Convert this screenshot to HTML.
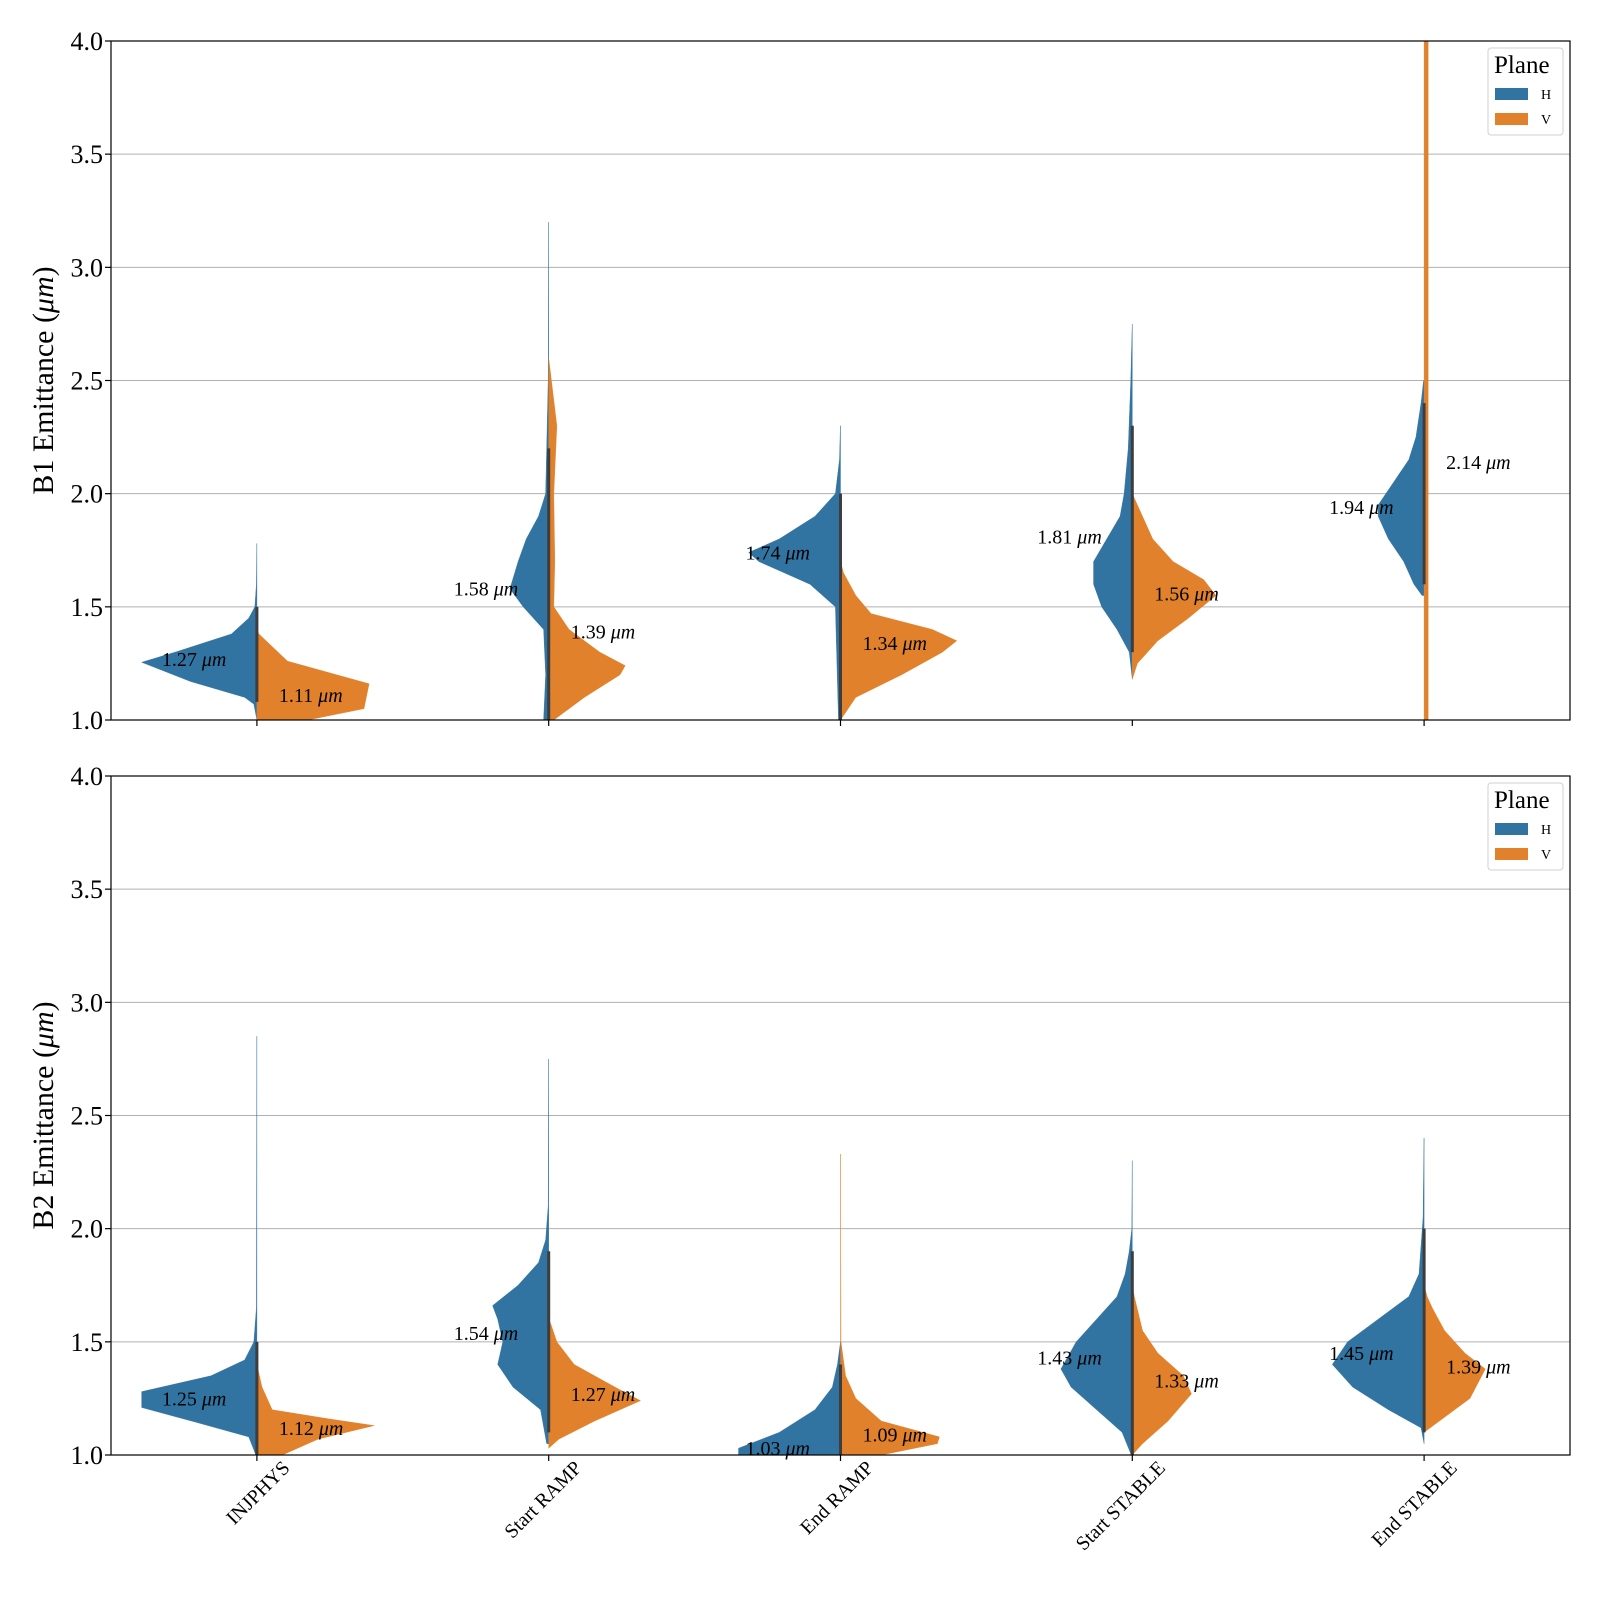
<!DOCTYPE html>
<html><head><meta charset="utf-8"><style>
body{margin:0;background:#fff}
svg{display:block;font-family:"Liberation Serif","DejaVu Serif",serif}
</style></head><body>
<svg id="chart" width="1600" height="1600" viewBox="0 0 1600 1600">
<defs>
<clipPath id="clip0"><rect x="111" y="41" width="1459" height="679"/></clipPath>
<clipPath id="clip1"><rect x="111" y="776" width="1459" height="679"/></clipPath>
</defs>
</svg>
<script>
const categories = ["INJPHYS","Start RAMP","End RAMP","Start STABLE","End STABLE"];
const yTicks = [1.0,1.5,2.0,2.5,3.0,3.5,4.0];
const panelTitles = ["B1 Emittance (","B2 Emittance ("];
// density profiles: [value, half-width]
const b1H = [
 [[1.0,0],[1.07,3],[1.1,12],[1.17,65],[1.255,113],[1.3,80],[1.38,25],[1.45,8],[1.5,2],[1.6,0.5],[1.78,0.1]],
 [[1.0,5],[1.2,3],[1.4,5],[1.5,25],[1.58,38],[1.7,30],[1.8,22],[1.9,10],[2.0,3],[2.2,2],[2.5,0.5],[3.2,0.1]],
 [[1.0,2],[1.5,5],[1.6,30],[1.7,80],[1.74,90],[1.8,60],[1.9,25],[2.0,5],[2.15,1],[2.3,0.1]],
 [[1.18,0],[1.3,3],[1.4,15],[1.5,30],[1.6,38],[1.7,38],[1.8,25],[1.9,12],[2.0,8],[2.2,4],[2.5,1.5],[2.75,0.1]],
 [[1.55,2],[1.6,10],[1.7,20],[1.8,35],[1.9,45],[1.95,45],[2.05,30],[2.15,15],[2.25,8],[2.4,3],[2.5,0.5]]
];
const b1V = [
 [[0.95,60],[1.0,50],[1.05,105],[1.16,110],[1.26,30],[1.38,2],[1.4,0]],
 [[1.0,5],[1.1,35],[1.2,70],[1.24,75],[1.3,50],[1.4,20],[1.5,5],[1.7,6],[2.0,5],[2.3,8],[2.45,4],[2.6,0]],
 [[1.0,0],[1.1,15],[1.2,60],[1.3,100],[1.35,114],[1.4,90],[1.47,30],[1.55,15],[1.65,3],[1.7,0]],
 [[1.18,0],[1.25,5],[1.35,25],[1.45,55],[1.55,82],[1.62,70],[1.7,40],[1.8,20],[1.95,5],[2.0,0]],
 [[0.9,4],[4.1,4]]
];
const b2H = [
 [[1.0,1],[1.08,8],[1.145,60],[1.21,113],[1.28,113],[1.35,45],[1.42,12],[1.5,3],[1.65,0.5],[2.85,0.1]],
 [[1.05,2],[1.2,8],[1.3,35],[1.4,50],[1.5,45],[1.6,50],[1.66,55],[1.75,30],[1.85,10],[1.95,3],[2.1,0.5],[2.75,0.1]],
 [[0.95,100],[1.03,100],[1.1,60],[1.2,25],[1.3,8],[1.4,3],[1.5,0]],
 [[1.0,1],[1.1,10],[1.2,35],[1.3,60],[1.38,70],[1.5,55],[1.6,35],[1.7,15],[1.8,7],[1.9,3],[2.0,0.5],[2.3,0.1]],
 [[1.05,0],[1.12,3],[1.2,35],[1.3,70],[1.4,90],[1.5,75],[1.6,45],[1.7,15],[1.8,5],[2.05,1],[2.4,0.1]]
];
const b2V = [
 [[0.95,40],[1.0,25],[1.07,60],[1.13,115],[1.16,70],[1.2,15],[1.3,5],[1.4,0]],
 [[1.03,0],[1.07,10],[1.15,45],[1.24,90],[1.3,65],[1.4,25],[1.5,8],[1.58,2],[1.6,0]],
 [[0.95,40],[1.0,40],[1.05,95],[1.08,97],[1.15,40],[1.25,15],[1.35,5],[1.5,0.5],[2.33,0.1]],
 [[1.0,0],[1.05,10],[1.15,35],[1.27,58],[1.35,50],[1.45,25],[1.55,10],[1.7,2],[1.75,0]],
 [[1.1,0],[1.15,15],[1.25,45],[1.38,60],[1.45,40],[1.55,20],[1.65,8],[1.7,3],[1.75,0]]
];
const b1Hmed = [1.27,1.58,1.74,1.81,1.94];
const b1Vmed = [1.11,1.39,1.34,1.56,2.14];
const b2Hmed = [1.25,1.54,1.03,1.43,1.45];
const b2Vmed = [1.12,1.27,1.09,1.33,1.39];
const b1Box = [[1.08,1.5],[1.0,2.2],[1.0,2.0],[1.3,2.3],[1.6,2.4]];
const b2Box = [[1.0,1.5],[1.1,1.9],[1.0,1.4],[1.0,1.9],[1.1,2.0]];

const NS="http://www.w3.org/2000/svg";
const svg=document.getElementById('chart');
const X0=111,X1=1570,SC=1.02;
const panels=[{top:41,bot:720,H:b1H,V:b1V,Hm:b1Hmed,Vm:b1Vmed,box:b1Box},{top:776,bot:1455,H:b2H,V:b2V,Hm:b2Hmed,Vm:b2Vmed,box:b2Box}];
function xPos(i){return X0+(X1-X0)/categories.length*(i+0.5);}
function mk(tag,attrs,parent){const e=document.createElementNS(NS,tag);for(const k in attrs)e.setAttribute(k,attrs[k]);(parent||svg).appendChild(e);return e;}
panels.forEach((p,pi)=>{
  const yPos=v=>p.bot-(v-1)/3*(p.bot-p.top);
  const g=mk('g',{});
  
  
  yTicks.forEach(t=>{
    const y=yPos(t);
    const gl=mk('line',{x1:X0,x2:X1,y1:y,y2:y,stroke:'#b0b0b0','stroke-width':1},g);
    
    
    mk('line',{x1:X0-6,x2:X0,y1:y,y2:y,stroke:'#000','stroke-width':1.2},g);
    const tl=mk('text',{x:X0-8,y:y+9,'text-anchor':'end','font-size':26},g);
    tl.textContent=t.toFixed(1);
    
    
  });
  const vg=mk('g',{'clip-path':'url(#clip'+pi+')'},g);
  categories.forEach((c,i)=>{
    const cx=xPos(i);
    [['H',p.H[i],-1,'#3274a1'],['V',p.V[i],1,'#e1812c']].forEach(([nm,prof,dir,col])=>{
      let d='M'+cx+','+yPos(prof[0][0]);
      prof.forEach(([v,w])=>{d+=' L'+(cx+dir*w*SC)+','+yPos(v);});
      d+=' L'+cx+','+yPos(prof[prof.length-1][0])+' Z';
      const path=mk('path',{d:d,fill:col,stroke:col,'stroke-width':0.4},vg);
      
      
    });
    const b=p.box[i];
    const bl=mk('line',{x1:cx,x2:cx,y1:yPos(b[0]),y2:yPos(b[1]),stroke:'#3d3d3d','stroke-width':3},vg);
    
    
    const th=mk('text',{x:cx-95,y:yPos(p.Hm[i])+7,'font-size':20},g);
    th.innerHTML=p.Hm[i].toFixed(2)+' <tspan font-style="italic">μm</tspan>';
    
    
    const tv=mk('text',{x:cx+22,y:yPos(p.Vm[i])+7,'font-size':20},g);
    tv.innerHTML=p.Vm[i].toFixed(2)+' <tspan font-style="italic">μm</tspan>';
    
    
    mk('line',{x1:cx,x2:cx,y1:p.bot,y2:p.bot+6,stroke:'#000','stroke-width':1.2},g);
    if(pi===1){
      const xl=mk('text',{transform:'translate('+(cx+34)+','+(p.bot+14)+') rotate(-45)','text-anchor':'end','font-size':20},g);
      xl.textContent=c;
      
      
    }
  });
  const fr=mk('rect',{x:X0,y:p.top,width:X1-X0,height:p.bot-p.top,fill:'none',stroke:'#000','stroke-width':1.2},g);
  
  
  const yt=mk('text',{transform:'translate(53,'+((p.top+p.bot)/2)+') rotate(-90)','text-anchor':'middle','font-size':30},g);
  yt.innerHTML=panelTitles[pi]+'<tspan font-style="italic">μm</tspan>)';
  
  
  const lg=mk('g',{},g);
  
  
  const ly=p.top+7;
  mk('rect',{x:1488,y:ly,width:75,height:87,rx:3,fill:'#fff','fill-opacity':0.85,stroke:'#d0d0d0'},lg);
  const lt=mk('text',{x:1494,y:ly+25,'font-size':25},lg);lt.textContent='Plane';
  [['H','#3274a1',40],['V','#e1812c',65]].forEach(([n,col,dy])=>{
    const r=mk('rect',{x:1495,y:ly+dy,width:33,height:12,fill:col},lg);
    
    
    const t=mk('text',{x:1541,y:ly+dy+11,'font-size':14},lg);t.textContent=n;
    
    
  });
});
</script>
</body></html>
